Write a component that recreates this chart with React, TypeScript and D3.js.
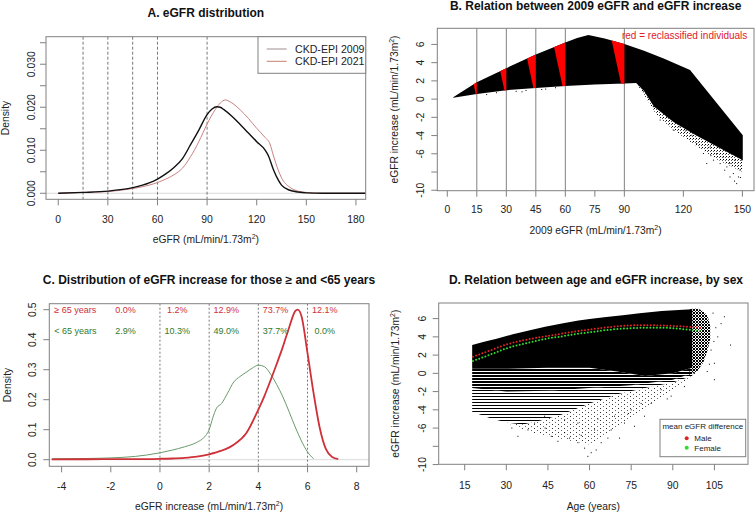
import React from 'react';
import * as d3 from 'd3';

const W = 756, H = 514;
const FONT = '"Liberation Sans", Arial, Helvetica, sans-serif';
const AXC = '#808080';

// ---------- Panel A: eGFR distribution ----------
const aX2009 = [0, 15, 30, 45, 55, 60, 65, 70, 75, 80, 85, 90, 93, 96, 98, 100, 105, 110, 115, 120, 125, 127, 130, 133, 135, 140, 145, 150, 160, 186];
const aY2009 = [0, 0.0002, 0.0005, 0.0013, 0.0024, 0.0033, 0.0045, 0.006, 0.008, 0.0113, 0.0147, 0.0183, 0.0196, 0.0201, 0.02, 0.0195, 0.0179, 0.016, 0.014, 0.012, 0.0101, 0.0088, 0.0056, 0.0031, 0.0019, 0.0007, 0.0003, 0.0001, 0, 0];
const aX2021 = [0, 15, 30, 45, 55, 60, 65, 70, 75, 80, 85, 90, 95, 98, 101, 105, 110, 115, 120, 125, 128, 130, 133, 135, 140, 145, 150, 160, 186];
const aY2021 = [0, 0.0002, 0.0004, 0.0011, 0.0019, 0.0025, 0.0033, 0.0043, 0.0058, 0.0085, 0.012, 0.0161, 0.0195, 0.021, 0.0217, 0.021, 0.0194, 0.0174, 0.0151, 0.013, 0.0115, 0.0089, 0.0054, 0.0036, 0.0014, 0.0005, 0.0002, 0, 0];
const aThresholds = [15, 30, 45, 60, 90];
const aXTicks = [0, 30, 60, 90, 120, 150, 180];
const aYTicks = [0, 0.005, 0.01, 0.015, 0.02, 0.025, 0.03, 0.035];
const aYLabels = ['0.000', '', '0.010', '', '0.020', '', '0.030', ''];
const aLegend = ['CKD-EPI 2009', 'CKD-EPI 2021'];

// ---------- Panel B: 2009 eGFR vs increase ----------
const bUpX = [3.0, 15, 30, 45, 60, 66, 71.7, 80, 90, 100, 110, 123.4, 150.2];
const bUpY = [0.2, 1.85, 3.4, 4.9, 6.2, 6.7, 7.03, 6.65, 6.05, 5.3, 4.45, 3.19, -3.96];
const bLoX = [3.0, 15, 30, 45, 60, 75, 90, 96, 100, 105, 115, 125, 137, 150.2];
const bLoY = [0.15, 0.55, 0.98, 1.22, 1.43, 1.6, 1.72, 1.78, 0.9, -0.8, -2.5, -3.8, -5.2, -6.7];
const bSparseX = [96, 100, 106, 115, 125, 137, 150.2];
const bSparseY = [1.78, 0.5, -1.6, -3.4, -4.9, -6.6, -8.0];
const bDotX = [108.2, 114.9, 124.3, 126.8, 130.2, 133.6, 135.3, 138.7, 142.1, 143.7, 145.4, 147.1, 148.8, 149.7, 118.3, 111.6, 104.7, 99.7, 128.5, 137, 140.3, 131.9, 143.7, 148, 146.3, 20, 25, 35, 40, 50, 55, 38, 48, 121, 134, 141, 146, 149];
const bDotY = [-2.3, -3.4, -3.96, -4.87, -5.97, -5.24, -6.7, -7.07, -7.44, -8.54, -8.17, -9.27, -7.8, -6.7, -3.04, -1.94, -0.84, 0.8, -4.14, -5.97, -6.34, -7.07, -7.07, -8.54, -6.7, 0.5, 0.7, 0.85, 0.95, 1.1, 1.25, 0.8, 1.05, -3.5, -6.2, -7.8, -9.0, -8.6];
const bThresholds = [15, 30, 45, 60, 90];
const bXTicks = [0, 15, 30, 45, 60, 75, 90, 120, 150];
const bYTicks = [6, 4, 2, 0, -2, -4, -6, -8, -10];
const bYLabels = ['6', '4', '2', '0', '-2', '-4', '-6', '', '-10'];

// ---------- Panel C: distribution of increase by age group ----------
const cXOld = [-4.4, -3, -2, -1, 0, 0.5, 1, 1.5, 2, 2.5, 3, 3.5, 4, 4.25, 4.5, 4.75, 5, 5.25, 5.5, 5.6, 5.75, 6, 6.25, 6.5, 6.75, 7, 7.25];
const cYOld = [0.001, 0.0015, 0.002, 0.002, 0.003, 0.004, 0.006, 0.01, 0.018, 0.03, 0.05, 0.087, 0.167, 0.213, 0.265, 0.32, 0.377, 0.44, 0.495, 0.5, 0.48, 0.355, 0.22, 0.105, 0.035, 0.009, 0.002];
const cXYoung = [-4.4, -3, -2, -1, 0, 0.5, 1, 1.5, 1.8, 2, 2.15, 2.3, 2.5, 2.75, 3, 3.25, 3.5, 3.75, 4, 4.25, 4.5, 4.75, 5, 5.25, 5.5, 5.75, 6, 6.25];
const cYYoung = [0.003, 0.004, 0.006, 0.011, 0.023, 0.032, 0.043, 0.058, 0.075, 0.1, 0.14, 0.172, 0.187, 0.222, 0.259, 0.277, 0.291, 0.305, 0.315, 0.31, 0.285, 0.25, 0.209, 0.16, 0.109, 0.063, 0.026, 0.003];
const cThresholds = [0, 2, 4, 6];
const cXTicks = [-4, -2, 0, 2, 4, 6, 8];
const cYTicks = [0, 0.1, 0.2, 0.3, 0.4, 0.5];
const cYLabels = ['0.0', '0.1', '0.2', '0.3', '0.4', '0.5'];
const cGroups = ['\u2265 65 years', '< 65 years'];
const cPctX = [-1.4, 0.7, 2.7, 4.7, 6.7];
const cPctOld = ['0.0%', '1.2%', '12.9%', '73.7%', '12.1%'];
const cPctYoung = ['2.9%', '10.3%', '49.0%', '37.7%', '0.0%'];

// ---------- Panel D: age vs increase ----------
const dTopX = [17.7, 22, 26.5, 32, 38.5, 44, 50.5, 56, 60, 66, 72, 78, 86, 93.7, 97];
const dTopY = [3.1, 3.45, 3.78, 4.25, 4.72, 5.12, 5.5, 5.78, 5.95, 6.18, 6.38, 6.58, 6.82, 6.98, 7.02];
const dSolidLoX = [17.7, 30, 45, 60, 70, 80, 90, 97];
const dSolidLoY = [0.5, 0.5, 0.6, 0.6, 0.2, -0.3, 0.0, 0.6];
const dMidLoX = [17.7, 30, 45, 60, 75, 90, 97];
const dMidLoY = [-1.6, -2.0, -1.9, -1.6, -1.3, -0.7, 0.0];
const dFanLoX = [17.7, 24, 30, 36, 42, 50, 60, 70, 80, 90, 97];
const dFanLoY = [-4.2, -4.9, -5.4, -5.6, -5.2, -4.5, -3.3, -2.3, -1.6, -1.0, -0.3];
const dSparseX = [30, 40, 50, 60, 70, 80, 90, 97];
const dSparseY = [-5.4, -6.6, -7.2, -7.8, -6.0, -3.8, -2.0, -0.3];
const dRagX = [96, 99, 101, 102.5, 103.5, 103.5, 102.5, 101, 99, 96];
const dRagY = [7.05, 7.1, 6.8, 6.3, 5.2, 3.8, 2.5, 1.2, 0.3, -0.3];
const dDotX = [34.2, 37.8, 40.2, 43.8, 46.2, 48.6, 51.0, 52.8, 55.8, 58.2, 59.4, 60.6, 62.4, 64.2, 66.6, 67.8, 70.8, 72.6, 76.2, 79.8, 82.2, 85.8, 89.4, 94.2, 97.8, 105, 105, 110.8, 108.6, 107.4, 106.2, 103.8, 101.4, 55.8, 61.8, 51, 75, 69, 78.6, 32, 44, 57, 63, 74, 88, 104.5, 105.5, 104.8, 103.2, 102.4];
const dDotY = [-6.9, -6.2, -5.45, -4.7, -6.9, -7.45, -6.5, -7.1, -7.6, -8.2, -9.1, -8.7, -8.4, -7.6, -7.1, -6.2, -7.1, -5.45, -5.8, -4.7, -3.3, -1.8, -2.5, -1.45, 0, -0.7, 1.1, 3.1, 6.2, 5.45, 4.0, 2.55, 1.8, -5.45, -6.2, -5.1, -4.0, -4.7, -3.3, -6.0, -6.0, -6.8, -5.0, -4.4, -2.8, 6.6, 5.0, 3.5, 1.0, 0.2];
const dAges = [18, 25, 30, 35, 40, 45, 50, 55, 60, 65, 70, 75, 80, 85, 90, 95, 100];
const dMale = [1.82, 2.6, 3.15, 3.55, 3.85, 4.1, 4.35, 4.6, 4.8, 5.0, 5.15, 5.25, 5.28, 5.25, 5.2, 5.1, 5.0];
const dFemale = [1.35, 2.15, 2.73, 3.15, 3.5, 3.82, 4.05, 4.3, 4.5, 4.7, 4.85, 4.95, 5.0, 5.0, 4.95, 4.8, 4.65];
const dXTicks = [15, 30, 45, 60, 75, 90, 105];
const dYTicks = [6, 4, 2, 0, -2, -4, -6, -8, -10];
const dYLabels = ['6', '4', '2', '0', '-2', '-4', '-6', '', '-10'];
const dLegend = ['Male', 'Female'];

type S = d3.ScaleLinear<number, number>;

function line(xs: number[], ys: number[], sx: S, sy: S, curve: any = d3.curveMonotoneX) {
  return d3.line<number>().x((_, i) => sx(xs[i])).y((_, i) => sy(ys[i])).curve(curve)(xs) || '';
}
function poly(pts: [number, number][], sx: S, sy: S) {
  return (d3.line<[number, number]>().x(d => sx(d[0])).y(d => sy(d[1]))(pts) || '') + 'Z';
}
function zip(xs: number[], ys: number[]): [number, number][] {
  return xs.map((x, i) => [x, ys[i]] as [number, number]);
}

function Box({ sx, sy }: { sx: S; sy: S }) {
  const [x0, x1] = sx.range();
  const [y0, y1] = sy.range();
  return <rect x={x0} y={y1} width={x1 - x0} height={y0 - y1} fill="none" stroke={AXC} strokeWidth={1} />;
}

function XAxis({ sx, sy, ticks, labels, base, fs = 10.4 }: { sx: S; sy: S; ticks: number[]; labels?: string[]; base: number; fs?: number }) {
  const yb = sy.range()[0];
  return (
    <g>
      {ticks.map((t, i) => (
        <g key={i}>
          <line x1={sx(t)} x2={sx(t)} y1={yb} y2={yb + 6} stroke={AXC} />
          <text x={sx(t)} y={base} textAnchor="middle" fontSize={fs} fill="#222">{labels ? labels[i] : String(t)}</text>
        </g>
      ))}
    </g>
  );
}

function YAxis({ sx, sy, ticks, labels, base, fs = 10.4 }: { sx: S; sy: S; ticks: number[]; labels: string[]; base: number; fs?: number }) {
  const xl = sx.range()[0];
  return (
    <g>
      {ticks.map((t, i) => (
        <g key={i}>
          <line x1={xl - 6} x2={xl} y1={sy(t)} y2={sy(t)} stroke={AXC} />
          {labels[i] ? (
            <text transform={`translate(${base},${sy(t)}) rotate(-90)`} textAnchor="middle" fontSize={fs} fill="#222">{labels[i]}</text>
          ) : null}
        </g>
      ))}
    </g>
  );
}

function UnitLabel({ prefix }: { prefix: string }) {
  return (
    <>
      {prefix + ' (mL/min/1.73m'}
      <tspan fontSize={7} dy={-4}>2</tspan>
      <tspan dy={4}>)</tspan>
    </>
  );
}

function PanelA() {
  const sx = d3.scaleLinear().domain([-7.4, 185.9]).range([46, 365.7]);
  const sy = d3.scaleLinear().domain([-0.0014, 0.0364]).range([199.3, 36.7]);
  const [x0, x1] = sx.range();
  const [y0, y1] = sy.range();
  return (
    <g>
      <defs>
        <clipPath id="clipA"><rect x={x0} y={y1} width={x1 - x0} height={y0 - y1} /></clipPath>
      </defs>
      <text x={(x0 + x1) / 2} y={17.3} textAnchor="middle" fontSize={12} fontWeight="bold" fill="#111">A. eGFR distribution</text>
      <g clipPath="url(#clipA)">
        <line x1={x0} x2={x1} y1={sy(0)} y2={sy(0)} stroke="#d0d0d0" strokeWidth={0.8} />
        {aThresholds.map((t, i) => (
          <line key={i} x1={sx(t)} x2={sx(t)} y1={y1} y2={y0} stroke="#555" strokeWidth={0.8} strokeDasharray="3,2" />
        ))}
        <path d={line(aX2021, aY2021, sx, sy)} fill="none" stroke="#c98080" strokeWidth={1} />
        <path d={line(aX2009, aY2009, sx, sy)} fill="none" stroke="#111" strokeWidth={1.4} />
      </g>
      <Box sx={sx} sy={sy} />
      <XAxis sx={sx} sy={sy} ticks={aXTicks} base={222.5} />
      <YAxis sx={sx} sy={sy} ticks={aYTicks} labels={aYLabels} base={35} />
      <text x={(x0 + x1) / 2} y={242.5} textAnchor="middle" fontSize={10.3} fill="#222"><UnitLabel prefix="eGFR" /></text>
      <text transform={`translate(9,${(y0 + y1) / 2}) rotate(-90)`} textAnchor="middle" fontSize={10.3} fill="#222">Density</text>
      <rect x={258} y={36.7} width={x1 - 258} height={36.6} fill="#fff" stroke={AXC} />
      {aLegend.map((l, i) => (
        <g key={i}>
          <line x1={266.7} x2={286.7} y1={49 + i * 12.3} y2={49 + i * 12.3} stroke={i === 0 ? '#a09090' : '#c98070'} strokeWidth={1} />
          <text x={295} y={52.8 + i * 12.3} fontSize={10.6} fill="#222">{l}</text>
        </g>
      ))}
    </g>
  );
}

function PanelB() {
  const sx = d3.scaleLinear().domain([-5.08, 155.9]).range([437.3, 754]);
  const sy = d3.scaleLinear().domain([-10.05, 7.77]).range([190.7, 28.3]);
  const [x0, x1] = sx.range();
  const [y0, y1] = sy.range();
  const dense = poly([...zip(bUpX, bUpY), ...zip(bLoX, bLoY).reverse()], sx, sy);
  const lo96 = zip(bLoX, bLoY).filter(p => p[0] >= 96);
  const sparse = poly([...lo96, ...zip(bSparseX, bSparseY).reverse()], sx, sy);
  return (
    <g>
      <defs>
        <clipPath id="clipB"><rect x={x0} y={y1} width={x1 - x0} height={y0 - y1} /></clipPath>
        <clipPath id="cloudB"><path d={dense} /></clipPath>
        <pattern id="sparseB" patternUnits="userSpaceOnUse" width={3} height={3}>
          <rect x={0} y={0} width={1} height={1} fill="#000" />
          <rect x={2} y={1} width={1} height={1} fill="#555" />
        </pattern>
      </defs>
      <text x={(x0 + x1) / 2} y={9.5} textAnchor="middle" fontSize={12} fontWeight="bold" fill="#111">B. Relation between 2009 eGFR and eGFR increase</text>
      <g clipPath="url(#clipB)">
        {bThresholds.map((t, i) => (
          <line key={i} x1={sx(t)} x2={sx(t)} y1={y1} y2={y0} stroke="#808080" strokeWidth={1} />
        ))}
        <path d={sparse} fill="url(#sparseB)" />
        {bDotX.map((x, i) => (
          <rect key={i} x={sx(x) - 0.5} y={sy(bDotY[i]) - 0.5} width={1} height={1} fill="#000" />
        ))}
        <path d={dense} fill="#000" />
        <g clipPath="url(#cloudB)">
          {bThresholds.map((t, i) => (
            <path key={i} d={poly([[t - 9, 9], [t, 9], [t, 0]], sx, sy)} fill="#ff0000" />
          ))}
        </g>
      </g>
      <Box sx={sx} sy={sy} />
      <XAxis sx={sx} sy={sy} ticks={bXTicks} base={213.3} />
      <YAxis sx={sx} sy={sy} ticks={bYTicks} labels={bYLabels} base={424} />
      <text x={(x0 + x1) / 2} y={233.5} textAnchor="middle" fontSize={10.3} fill="#222"><UnitLabel prefix="2009 eGFR" /></text>
      <text transform={`translate(398,${(y0 + y1) / 2}) rotate(-90)`} textAnchor="middle" fontSize={10.3} fill="#222"><UnitLabel prefix="eGFR increase" /></text>
      <text x={747.3} y={38.5} textAnchor="end" fontSize={10} fill="#e0202a">red = reclassified individuals</text>
    </g>
  );
}

function PanelC() {
  const sx = d3.scaleLinear().domain([-4.5, 8.5]).range([49.3, 369]);
  const sy = d3.scaleLinear().domain([-0.022, 0.52]).range([466.3, 303.7]);
  const [x0, x1] = sx.range();
  const [y0, y1] = sy.range();
  const red = '#d03038';
  const green = '#2f7a2f';
  return (
    <g>
      <defs>
        <clipPath id="clipC"><rect x={x0} y={y1} width={x1 - x0} height={y0 - y1} /></clipPath>
      </defs>
      <text x={209} y={283.7} textAnchor="middle" fontSize={12} fontWeight="bold" fill="#111">C. Distribution of eGFR increase for those {'\u2265'} and {'<'}65 years</text>
      <g clipPath="url(#clipC)">
        <line x1={x0} x2={x1} y1={sy(0)} y2={sy(0)} stroke="#d0d0d0" strokeWidth={0.8} />
        {cThresholds.map((t, i) => (
          <line key={i} x1={sx(t)} x2={sx(t)} y1={y1} y2={y0} stroke="#555" strokeWidth={0.8} strokeDasharray="2,2" />
        ))}
        <path d={line(cXYoung, cYYoung, sx, sy)} fill="none" stroke="#6a9a6a" strokeWidth={1} />
        <path d={line(cXOld, cYOld, sx, sy)} fill="none" stroke={red} strokeWidth={1.8} />
      </g>
      <text x={54.3} y={313.3} fontSize={9} fill={red}>{cGroups[0]}</text>
      <text x={54.3} y={334} fontSize={9} fill={green}>{cGroups[1]}</text>
      {cPctX.map((x, i) => (
        <g key={i}>
          <text x={sx(x)} y={313.3} textAnchor="middle" fontSize={9} fill={red}>{cPctOld[i]}</text>
          <text x={sx(x)} y={334} textAnchor="middle" fontSize={9} fill={green}>{cPctYoung[i]}</text>
        </g>
      ))}
      <Box sx={sx} sy={sy} />
      <XAxis sx={sx} sy={sy} ticks={cXTicks} base={489.7} />
      <YAxis sx={sx} sy={sy} ticks={cYTicks} labels={cYLabels} base={36} />
      <text x={(x0 + x1) / 2} y={509.5} textAnchor="middle" fontSize={10.3} fill="#222"><UnitLabel prefix="eGFR increase" /></text>
      <text transform={`translate(11,${(y0 + y1) / 2}) rotate(-90)`} textAnchor="middle" fontSize={10.3} fill="#222">Density</text>
    </g>
  );
}

function PanelD() {
  const sx = d3.scaleLinear().domain([5.64, 117.1]).range([438.7, 748]);
  const sy = d3.scaleLinear().domain([-9.97, 7.71]).range([464.3, 303]);
  const [x0, x1] = sx.range();
  const [y0, y1] = sy.range();
  const solid = poly([...zip(dTopX, dTopY), ...zip(dSolidLoX, dSolidLoY).reverse()], sx, sy);
  const fanTop = poly([...zip(dSolidLoX, dSolidLoY), ...zip(dMidLoX, dMidLoY).reverse()], sx, sy);
  const fanLow = poly([...zip(dMidLoX, dMidLoY), ...zip(dFanLoX, dFanLoY).reverse()], sx, sy);
  const sparse = poly([...zip(dFanLoX, dFanLoY).filter(p => p[0] >= 30), ...zip(dSparseX, dSparseY).reverse()], sx, sy);
  const rag = poly(zip(dRagX, dRagY), sx, sy);
  const mRed = '#e02424';
  const mGreen = '#30dd30';
  return (
    <g>
      <defs>
        <clipPath id="clipD"><rect x={x0} y={y1} width={x1 - x0} height={y0 - y1} /></clipPath>
        <pattern id="fanD1" patternUnits="userSpaceOnUse" width={6} height={3}>
          <rect x={0} y={0} width={6} height={2} fill="#000" />
        </pattern>
        <pattern id="fanD2" patternUnits="userSpaceOnUse" width={6} height={3}>
          <rect x={0} y={0} width={6} height={1} fill="#000" />
        </pattern>
        <pattern id="speckD" patternUnits="userSpaceOnUse" width={3} height={3}>
          <rect x={0} y={0} width={2} height={2} fill="#000" />
          <rect x={2} y={2} width={1} height={1} fill="#000" />
        </pattern>
        <pattern id="sparseD" patternUnits="userSpaceOnUse" width={6} height={4}>
          <rect x={0} y={0} width={1} height={1} fill="#333" />
          <rect x={3} y={2} width={1} height={1} fill="#666" />
        </pattern>
      </defs>
      <text x={596} y={283.5} textAnchor="middle" fontSize={12} fontWeight="bold" fill="#111">D. Relation between age and eGFR increase, by sex</text>
      <g clipPath="url(#clipD)">
        <path d={sparse} fill="url(#sparseD)" />
        {dDotX.map((x, i) => (
          <rect key={i} x={sx(x) - 0.5} y={sy(dDotY[i]) - 0.5} width={1} height={1} fill="#000" />
        ))}
        <path d={fanLow} fill="url(#fanD2)" />
        <path d={fanTop} fill="url(#fanD1)" />
        <path d={rag} fill="url(#speckD)" />
        <path d={solid} fill="#000" />
        <path d={line(dAges, dMale, sx, sy)} fill="none" stroke={mRed} strokeWidth={2} strokeLinecap="round" strokeDasharray="0,3.3" />
        <path d={line(dAges, dFemale, sx, sy)} fill="none" stroke={mGreen} strokeWidth={2} strokeLinecap="round" strokeDasharray="0,3.3" />
      </g>
      <Box sx={sx} sy={sy} />
      <XAxis sx={sx} sy={sy} ticks={dXTicks} base={488.7} />
      <YAxis sx={sx} sy={sy} ticks={dYTicks} labels={dYLabels} base={425.7} />
      <text x={(x0 + x1) / 2} y={509.5} textAnchor="middle" fontSize={10.3} fill="#222">Age (years)</text>
      <text transform={`translate(399,${(y0 + y1) / 2}) rotate(-90)`} textAnchor="middle" fontSize={10.3} fill="#222"><UnitLabel prefix="eGFR increase" /></text>
      <rect x={660} y={419.3} width={85.7} height={37.4} fill="#fff" stroke={AXC} />
      <text x={702.8} y={429} textAnchor="middle" fontSize={8} fill="#222">mean eGFR difference</text>
      {dLegend.map((l, i) => (
        <g key={i}>
          <circle cx={686.7} cy={438.3 + i * 9.4} r={2} fill={i === 0 ? mRed : mGreen} />
          <text x={694.3} y={441.3 + i * 9.4} fontSize={8} fill="#222">{l}</text>
        </g>
      ))}
    </g>
  );
}

export default function App() {
  return (
    <svg width={W} height={H} viewBox={`0 0 ${W} ${H}`} style={{ position: 'absolute', left: 0, top: 0, display: 'block', background: '#fff' }} fontFamily={FONT}>
      <rect x={0} y={0} width={W} height={H} fill="#fff" />
      <PanelA />
      <PanelB />
      <PanelC />
      <PanelD />
    </svg>
  );
}
